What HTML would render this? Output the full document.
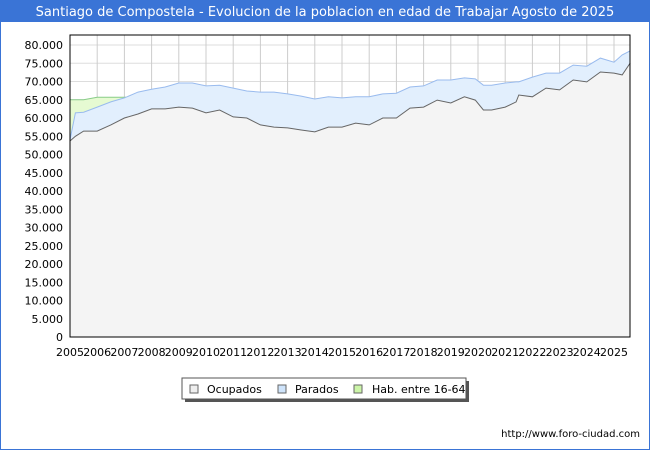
<!DOCTYPE html>
<html><head><meta charset="utf-8"><style>
body{margin:0;width:650px;height:450px;overflow:hidden;background:#fff;font-family:"Liberation Sans","DejaVu Sans",sans-serif}
</style></head><body>
<svg id="c" width="650" height="450" xmlns="http://www.w3.org/2000/svg" style="font-family:'DejaVu Sans','Liberation Sans',sans-serif">
<rect x="0.5" y="0.5" width="649" height="449" fill="#fff" stroke="#3a74d6"/>
<rect x="0" y="0" width="650" height="22" fill="#3a74d6"/>
<text x="325" y="16" text-anchor="middle" fill="#fff" font-size="13">Santiago de Compostela - Evolucion de la poblacion en edad de Trabajar Agosto de 2025</text>
<g id="grid"></g><g id="series"></g><g id="axes"></g>
<g>
<rect x="185" y="381" width="284" height="21" fill="#555"/>
<rect x="182" y="378" width="284" height="21" fill="#fff" stroke="#555"/>
<rect x="190" y="385" width="8" height="8" fill="#eee" stroke="#666"/>
<text x="207" y="393" font-size="11">Ocupados</text>
<rect x="278" y="385" width="8" height="8" fill="#cfe4fb" stroke="#666"/>
<text x="295" y="393" font-size="11">Parados</text>
<rect x="354" y="385" width="8" height="8" fill="#ccf5a8" stroke="#666"/>
<text x="372" y="393" font-size="11">Hab. entre 16-64</text>
</g>
<text x="640" y="437" text-anchor="end" font-size="10">http://www.foro-ciudad.com</text>
</svg>
<script>
const times=[2005.0,2005.2,2005.5,2006,2006.5,2007,2007.5,2008,2008.5,2009,2009.5,2010,2010.5,2011,2011.5,2012,2012.5,2013,2013.5,2014,2014.5,2015,2015.5,2016,2016.5,2017,2017.5,2018,2018.5,2019,2019.5,2019.9,2020.2,2020.5,2021,2021.4,2021.5,2022,2022.5,2023,2023.5,2024,2024.5,2025,2025.3,2025.6];
const ocupados=[53700,55000,56400,56400,58100,60000,61100,62500,62500,63000,62700,61400,62200,60300,60000,58100,57500,57300,56700,56200,57500,57500,58600,58100,60000,60000,62700,63000,64900,64100,65800,64900,62200,62200,63000,64400,66300,65800,68200,67700,70400,69900,72600,72300,71800,75100];
const total=[54000,61400,61600,63000,64400,65500,67100,67900,68500,69600,69600,68800,69000,68200,67400,67100,67100,66600,66000,65200,65800,65500,65800,65800,66600,66800,68500,68800,70400,70400,71000,70700,69000,69000,69600,69900,69900,71200,72300,72300,74500,74200,76400,75300,77300,78400];
const hab=[65000,65000,65000,65700,65700,65700,65700,65000,65000,65000,65000,65000,65000,65000,65000,65000,65000,64500,64000,63500,63500,63500,63500,63500,63500,63500,63500,63500,63500,63500,63500,63500,63500,63500,63500,63500,63500,63500,63500,63500,63500,63500,63500,63500,63500,63500];
const yTicks=[0,5000,10000,15000,20000,25000,30000,35000,40000,45000,50000,55000,60000,65000,70000,75000,80000];
const years=[2005,2006,2007,2008,2009,2010,2011,2012,2013,2014,2015,2016,2017,2018,2019,2020,2021,2022,2023,2024,2025];
const NS='http://www.w3.org/2000/svg';
const X0=70,X1=630,Y0=337,YT=35;
const xs=t=>X0+(t-2005)*27.2;
const ys=v=>Y0-v*292/80000;
function mk(tag,attrs,parent){const e=document.createElementNS(NS,tag);for(const k in attrs)e.setAttribute(k,attrs[k]);parent.appendChild(e);return e;}
const grid=document.getElementById('grid'),ser=document.getElementById('series'),ax=document.getElementById('axes');
const bg=mk('rect',{x:X0,y:YT,width:X1-X0,height:Y0-YT,fill:'#fff'},grid);


yTicks.forEach(v=>{
 const l=mk('line',{x1:X0,x2:X1,y1:ys(v),y2:ys(v),stroke:'#ddd'},grid);
 
 
 const t=mk('text',{x:63,y:ys(v)+4,'text-anchor':'end','font-size':11},ax);
 
 
 t.textContent=v.toLocaleString('de-DE');
});
years.forEach(y=>{
 const l=mk('line',{x1:xs(y),x2:xs(y),y1:YT,y2:Y0,stroke:'#ccc'},grid);
 
 
 const t=mk('text',{x:xs(y),y:356,'text-anchor':'middle','font-size':11},ax);
 
 
 t.textContent=y;
});
function area(arr,fill,stroke,name){
 let d='M'+xs(times[0])+','+Y0;
 times.forEach((t,i)=>d+=' L'+xs(t).toFixed(1)+','+ys(arr[i]).toFixed(1));
 d+=' L'+xs(times[times.length-1])+','+Y0+' Z';
 const p=mk('path',{d:d,fill:fill},ser);
 
 
 let l='';times.forEach((t,i)=>l+=(i?' L':'M')+xs(t).toFixed(1)+','+ys(arr[i]).toFixed(1));
 const q=mk('path',{d:l,fill:'none',stroke:stroke,'stroke-width':1},ser);
 
 
}
area(hab,'#e6fad2','#88cc88','hab');
area(total,'#e2effd','#99bbee','parados');
area(ocupados,'#f4f4f4','#666','ocupados');
const b=mk('rect',{x:X0,y:YT,width:X1-X0,height:Y0-YT,fill:'none',stroke:'#000'},ax);


</script>
</body></html>
